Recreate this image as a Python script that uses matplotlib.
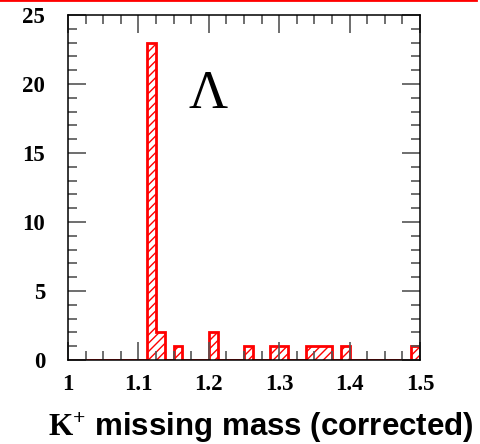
import matplotlib
matplotlib.use("Agg")
import matplotlib.pyplot as plt
import numpy as np
from matplotlib.ticker import MultipleLocator

plt.rcParams["mathtext.fontset"] = "custom"
plt.rcParams["mathtext.bf"] = "Liberation Serif:bold"
plt.rcParams["mathtext.rm"] = "Liberation Serif"
plt.rcParams["hatch.linewidth"] = 1.0

# 40 bins of 12.5 MeV between 1.0 and 1.5 GeV
edges = np.linspace(1.0, 1.5, 41)
counts = [0, 0, 0, 0, 0, 0, 0, 0, 0, 23,
          2, 0, 1, 0, 0, 0, 2, 0, 0, 0,
          1, 0, 0, 1, 1, 0, 0, 1, 1, 1,
          0, 1, 0, 0, 0, 0, 0, 0, 0, 1]
xticks = [1.0, 1.1, 1.2, 1.3, 1.4, 1.5]
xticklabels = ["1", "1.1", "1.2", "1.3", "1.4", "1.5"]
yticks = [0, 5, 10, 15, 20, 25]

fig = plt.figure(figsize=(4.8, 4.44), dpi=100)
ax = fig.add_axes([68 / 480, 1 - 360 / 444, 352 / 480, 345 / 444])

ax.stairs(counts, edges, fill=True, facecolor="white", edgecolor="red",
          hatch="////", linewidth=0, zorder=1)
ax.stairs(counts, edges, fill=False, color="red", linewidth=2.0, zorder=1.5)

ax.set_xlim(1.0, 1.5)
ax.set_ylim(0, 25)
ax.set_xticks(xticks)
ax.set_xticklabels(xticklabels)
ax.set_yticks(yticks)
ax.xaxis.set_minor_locator(MultipleLocator(0.025))
ax.yaxis.set_minor_locator(MultipleLocator(1))
ax.tick_params(which="both", direction="in", top=True, right=True,
               color="#555555", width=1.2)
ax.tick_params(which="major", length=13)
ax.tick_params(which="minor", length=6.5)
ax.tick_params(axis="x", which="major", pad=10)
ax.tick_params(axis="y", which="major", pad=16.5)
for lbl in ax.get_xticklabels() + ax.get_yticklabels():
    lbl.set_fontfamily("Liberation Serif")
    lbl.set_fontweight("bold")
    lbl.set_fontsize(16.5)
for s in ax.spines.values():
    s.set_linewidth(1.1)
    s.set_color("black")

ax.text(0.398, 0.7304, "\u039b", transform=ax.transAxes, ha="center",
        va="baseline", fontsize=39, family="Liberation Serif")

fig.text(261 / 480, 1 - 435.5 / 444, r"$\mathbf{K^{+}}$ missing mass (corrected)",
         ha="center", va="baseline", fontsize=22.5, family="Liberation Sans",
         weight="bold")

fig.add_artist(plt.Line2D([0, 476 / 480], [0.999, 0.999], color="red",
                          linewidth=2, transform=fig.transFigure))

fig.savefig("out.png", dpi=100)
